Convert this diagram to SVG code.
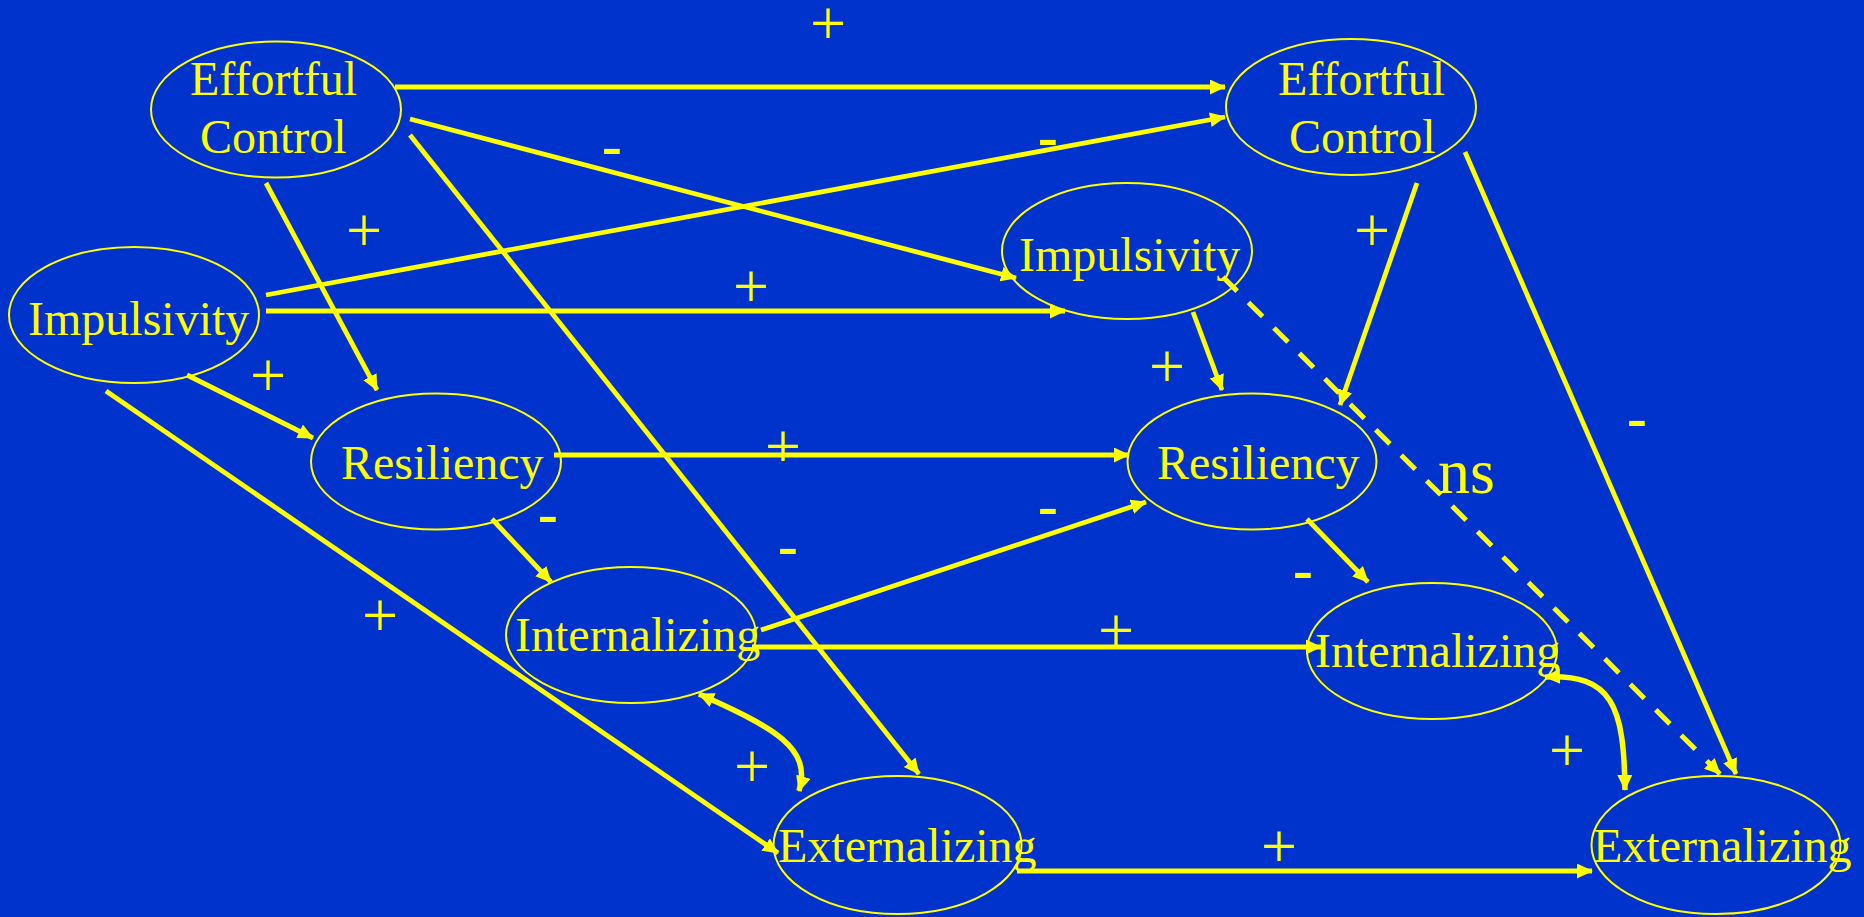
<svg xmlns="http://www.w3.org/2000/svg" width="1864" height="917" viewBox="0 0 1864 917">
<defs>
<marker id="ah" markerUnits="userSpaceOnUse" markerWidth="18" markerHeight="16" refX="15" refY="7.5" orient="auto-start-reverse">
<path d="M0,0 L16,7.5 L0,15 z" fill="#FFFF00"/>
</marker>
<style>
.node ellipse{fill:none;stroke:#FFFF00;stroke-width:2}
.node text{font-family:"Liberation Serif","Times New Roman",serif;font-size:48px;fill:#FFFF00}
.c{fill:none;stroke:#FFFF00;stroke-width:4.8;marker-end:url(#ah)}
.curve{stroke-width:5.5}
.dash{stroke-width:5;stroke-dasharray:20 16}
.plus{font-family:"Liberation Serif","Times New Roman",serif;font-size:64px;fill:#FFFF00;text-anchor:middle}
.minus{font-family:"Liberation Sans",Arial,sans-serif;font-size:64px;fill:#FFFF00;text-anchor:middle}
.ns{font-family:"Liberation Serif","Times New Roman",serif;font-size:64px;fill:#FFFF00}
</style>
</defs>
<rect x="0" y="0" width="1864" height="917" fill="#0033CC"/>

<g id="connectors">
<line class="c" x1="395" y1="87" x2="1225" y2="87"/>
<line class="c" x1="410" y1="119" x2="1016" y2="278"/>
<line class="c" x1="266" y1="183" x2="377" y2="390"/>
<line class="c" x1="410" y1="135" x2="919" y2="774"/>
<line class="c" x1="266" y1="295" x2="1225" y2="117"/>
<line class="c" x1="266" y1="311" x2="1065" y2="311"/>
<line class="c" x1="187" y1="375" x2="313" y2="438"/>
<line class="c" x1="106" y1="391" x2="778" y2="853"/>
<line class="c" x1="554" y1="455" x2="1129" y2="455"/>
<line class="c" x1="492" y1="519" x2="551" y2="582"/>
<line class="c" x1="761" y1="630" x2="1146" y2="502"/>
<line class="c" x1="752" y1="647" x2="1321" y2="647"/>
<path class="c curve" d="M699,694 C775,728 812,748 799,791" marker-start="url(#ah)"/>
<line class="c" x1="1417" y1="183" x2="1340" y2="405"/>
<line class="c" x1="1465" y1="152" x2="1736" y2="774"/>
<line class="c" x1="1193" y1="312" x2="1222" y2="390"/>
<line class="c dash" x1="1223" y1="277" x2="1720" y2="774"/>
<line class="c" x1="1307" y1="519" x2="1368" y2="582"/>
<path class="c curve" d="M1545,677 C1612,674 1624,705 1625,790" marker-start="url(#ah)"/>
<line class="c" x1="1017" y1="871" x2="1592" y2="871"/>
</g>

<g id="labels">
<text class="plus" x="828" y="45">+</text>
<text class="plus" x="364" y="252">+</text>
<text class="plus" x="751" y="308">+</text>
<text class="plus" x="268" y="397">+</text>
<text class="plus" x="380" y="637">+</text>
<text class="plus" x="783" y="468">+</text>
<text class="plus" x="752" y="788">+</text>
<text class="plus" x="1372" y="252">+</text>
<text class="plus" x="1167" y="388">+</text>
<text class="plus" x="1116" y="652">+</text>
<text class="plus" x="1567" y="772">+</text>
<text class="plus" x="1279" y="868">+</text>
<text class="minus" x="612" y="169">-</text>
<text class="minus" x="1048" y="160">-</text>
<text class="minus" x="548" y="537">-</text>
<text class="minus" x="788" y="569">-</text>
<text class="minus" x="1048" y="529">-</text>
<text class="minus" x="1303" y="593">-</text>
<text class="minus" x="1637" y="441">-</text>
<text class="ns" x="1438" y="493">ns</text>
</g>

<g id="ec1" class="node"><ellipse cx="276" cy="109.5" rx="125" ry="68"/><text x="190" y="95">Effortful</text><text x="200" y="153">Control</text></g>
<g id="imp1" class="node"><ellipse cx="134" cy="315" rx="125" ry="68"/><text x="28" y="335">Impulsivity</text></g>
<g id="ec2" class="node"><ellipse cx="1351" cy="107" rx="125" ry="68"/><text x="1278" y="95">Effortful</text><text x="1289" y="153">Control</text></g>
<g id="imp2" class="node"><ellipse cx="1127" cy="251" rx="125" ry="68"/><text x="1019" y="271">Impulsivity</text></g>
<g id="res1" class="node"><ellipse cx="436" cy="461.5" rx="125" ry="68"/><text x="341" y="479">Resiliency</text></g>
<g id="res2" class="node"><ellipse cx="1252" cy="461.5" rx="124.5" ry="68"/><text x="1157" y="479">Resiliency</text></g>
<g id="int1" class="node"><ellipse cx="631" cy="635" rx="125" ry="68"/><text x="515" y="651">Internalizing</text></g>
<g id="int2" class="node"><ellipse cx="1432" cy="651" rx="125" ry="68"/><text x="1315" y="667">Internalizing</text></g>
<g id="ext1" class="node"><ellipse cx="897.5" cy="845" rx="124" ry="69"/><text x="778" y="862">Externalizing</text></g>
<g id="ext2" class="node"><ellipse cx="1716" cy="845" rx="124.5" ry="69"/><text x="1593" y="862">Externalizing</text></g>
</svg>
